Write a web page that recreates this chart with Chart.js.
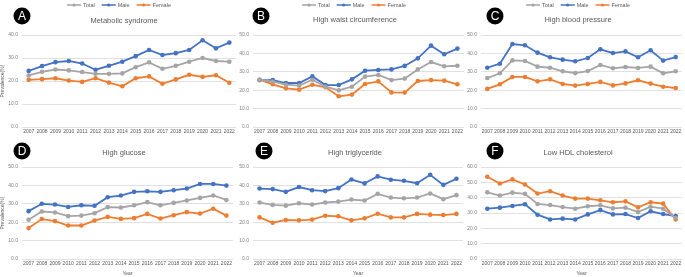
<!DOCTYPE html>
<html>
<head>
<meta charset="utf-8">
<script src="https://cdn.jsdelivr.net/npm/chart.js@4.4.1/dist/chart.umd.min.js"></script>
<style>
  html, body { margin: 0; padding: 0; background: #fff; }
  body { position: relative; width: 685px; height: 277px; overflow: hidden; }
  canvas { position: absolute; }
</style>
</head>
<body>
<canvas id="chartA" width="240" height="138" style="left:0px;top:0px"></canvas>
<canvas id="chartB" width="240" height="138" style="left:228px;top:0px"></canvas>
<canvas id="chartC" width="229" height="138" style="left:456px;top:0px"></canvas>
<canvas id="chartD" width="240" height="139" style="left:0px;top:138px"></canvas>
<canvas id="chartE" width="240" height="139" style="left:228px;top:138px"></canvas>
<canvas id="chartF" width="229" height="139" style="left:456px;top:138px"></canvas>
<script>
const years = ['2007','2008','2009','2010','2011','2012','2013','2014','2015','2016','2017','2018','2019','2020','2021','2022'];

// A - metabolic syndrome
const aTotal  = [22.4, 24.0, 25.0, 24.6, 23.9, 23.1, 23.1, 23.3, 26.0, 28.1, 25.3, 26.6, 28.4, 30.0, 28.7, 28.4];
const aMale   = [24.4, 26.5, 28.2, 28.7, 27.6, 24.9, 26.6, 28.4, 30.8, 33.5, 31.3, 32.1, 33.5, 37.7, 34.2, 36.7];
const aFemale = [20.5, 20.8, 21.2, 20.2, 19.6, 21.2, 19.3, 17.7, 21.2, 22.0, 18.8, 20.7, 22.7, 21.8, 22.5, 19.2];

// B - high waist circumference
const bTotal  = [25.7, 24.6, 23.0, 22.5, 25.7, 21.9, 19.9, 21.9, 27.4, 28.3, 25.5, 26.3, 31.3, 35.3, 33.0, 33.3];
const bMale   = [25.5, 25.5, 23.9, 23.9, 27.5, 22.8, 22.8, 25.9, 30.6, 31.0, 31.3, 33.2, 37.3, 44.2, 39.5, 42.6];
const bFemale = [25.7, 23.2, 21.0, 20.3, 23.0, 21.6, 16.7, 17.6, 23.4, 24.8, 18.8, 18.7, 25.0, 25.5, 25.2, 23.2];

// C - high blood pressure
const cTotal  = [26.6, 29.2, 36.2, 35.9, 32.8, 32.2, 30.3, 29.3, 30.4, 33.7, 31.9, 32.6, 32.1, 32.8, 29.2, 30.3];
const cMale   = [32.2, 34.4, 45.1, 44.4, 40.4, 37.9, 36.6, 35.7, 37.5, 42.2, 40.2, 41.1, 37.9, 41.7, 36.1, 38.0];
const cFemale = [20.7, 23.2, 27.2, 27.2, 24.8, 25.9, 23.4, 22.5, 23.4, 24.5, 22.6, 23.7, 25.4, 23.6, 21.9, 21.2];

// D - high glucose
const dTotal  = [21.3, 25.8, 25.3, 23.3, 23.6, 24.9, 28.2, 28.0, 29.2, 30.9, 29.2, 30.5, 31.8, 33.2, 34.5, 32.1];
const dMale   = [26.0, 30.0, 29.6, 28.3, 29.2, 28.9, 33.6, 34.5, 36.5, 36.8, 36.5, 37.4, 38.3, 40.8, 40.8, 39.9];
const dFemale = [16.8, 21.7, 20.6, 18.2, 18.2, 20.9, 22.9, 21.8, 22.2, 24.5, 22.0, 23.8, 25.5, 24.7, 27.3, 23.6];

// E - high triglyceride
const eTotal  = [30.7, 29.4, 29.0, 30.3, 29.6, 30.7, 31.2, 32.3, 31.8, 35.4, 33.4, 33.0, 33.4, 35.6, 32.5, 34.7];
const eMale   = [38.3, 38.0, 36.5, 39.1, 37.4, 36.9, 38.5, 43.2, 41.1, 44.9, 43.1, 42.5, 41.2, 45.8, 40.3, 43.6];
const eFemale = [22.6, 19.7, 21.2, 21.0, 21.4, 23.5, 23.2, 21.0, 22.1, 24.6, 22.6, 22.6, 24.5, 24.1, 23.9, 24.5];

// F - low HDL cholesterol
const fTotal  = [43.5, 41.4, 43.3, 42.5, 35.9, 35.2, 33.9, 32.8, 34.4, 35.0, 33.0, 33.5, 30.6, 34.1, 32.8, 26.7];
const fMale   = [32.8, 33.5, 34.6, 35.7, 28.9, 25.8, 26.3, 25.8, 29.1, 31.9, 29.1, 29.3, 26.7, 31.1, 29.3, 28.0];
const fFemale = [53.6, 49.2, 51.9, 48.6, 42.7, 44.2, 41.4, 39.4, 39.4, 38.3, 37.0, 37.6, 33.7, 37.0, 36.1, 25.8];

const FONT = "'Liberation Sans', Arial, sans-serif";
const GREY = '#a5a5a5', BLUE = '#4472c4', ORANGE = '#ed7d31';

// badge, title and legend drawn on top of each small chart
const panelDecor = {
    id: 'panelDecor',
    afterDraw(chart, args, o) {
        const { ctx } = chart;
        ctx.save();

        // letter badge
        ctx.beginPath();
        ctx.arc(o.badge[0], o.badge[1], 8.5, 0, Math.PI * 2);
        ctx.fillStyle = '#000';
        ctx.fill();
        ctx.fillStyle = '#fff';
        ctx.font = '12px ' + FONT;
        ctx.textAlign = 'center';
        ctx.textBaseline = 'middle';
        ctx.fillText(o.letter, o.badge[0], o.badge[1] + 0.5);

        // title
        ctx.fillStyle = '#595959';
        ctx.font = '7.5px ' + FONT;
        ctx.fillText(o.title, o.titlePos[0], o.titlePos[1]);

        // legend
        if (o.legendX) {
            ctx.font = '5.5px ' + FONT;
            const items = chart.data.datasets;
            const lineLen = 14, gap = 2, between = 7;
            let total = 0;
            items.forEach((d, i) => {
                total += lineLen + gap + ctx.measureText(d.label).width;
                if (i < items.length - 1) total += between;
            });
            let x = o.legendX - total / 2;
            const y = 5;
            ctx.textAlign = 'left';
            items.forEach(d => {
                ctx.strokeStyle = d.borderColor;
                ctx.lineWidth = 1.5;
                ctx.beginPath();
                ctx.moveTo(x, y);
                ctx.lineTo(x + lineLen, y);
                ctx.stroke();
                ctx.beginPath();
                ctx.arc(x + lineLen / 2, y, 1.6, 0, Math.PI * 2);
                ctx.fillStyle = d.borderColor;
                ctx.fill();
                x += lineLen + gap;
                ctx.fillStyle = '#595959';
                ctx.fillText(d.label, x, y);
                x += ctx.measureText(d.label).width + between;
            });
        }
        ctx.restore();
    }
};

function series(label, values, color) {
    return {
        label: label,
        data: values,
        borderColor: color,
        backgroundColor: color,
        borderWidth: 1.8,
        pointRadius: 2.3,
        pointBorderWidth: 0,
        tension: 0
    };
}

const panels = [
    { id: 'chartA', letter: 'A', title: 'Metabolic syndrome', yMax: 40, total: aTotal, male: aMale, female: aFemale,
      badge: [22, 16], titlePos: [124, 21], legendX: 119, top: 35, right: 4, yw: 22, xh: 11, yTitle: true, xTitle: false },
    { id: 'chartB', letter: 'B', title: 'High waist circumference', yMax: 50, total: bTotal, male: bMale, female: bFemale,
      badge: [33, 16], titlePos: [127, 20], legendX: 126, top: 35, right: 4, yw: 25, xh: 11, yTitle: false, xTitle: false },
    { id: 'chartC', letter: 'C', title: 'High blood pressure', yMax: 50, total: cTotal, male: cMale, female: cFemale,
      badge: [39, 16], titlePos: [122, 20], legendX: 122, top: 35, right: 3, yw: 25, xh: 11, yTitle: false, xTitle: false },
    { id: 'chartD', letter: 'D', title: 'High glucose', yMax: 50, total: dTotal, male: dMale, female: dFemale,
      badge: [22, 13], titlePos: [124, 15], legendX: 0, top: 29, right: 7, yw: 22, xh: 18, yTitle: true, xTitle: true },
    { id: 'chartE', letter: 'E', title: 'High triglyceride', yMax: 50, total: eTotal, male: eMale, female: eFemale,
      badge: [36, 13], titlePos: [127, 15], legendX: 0, top: 29, right: 5, yw: 25, xh: 18, yTitle: false, xTitle: true },
    { id: 'chartF', letter: 'F', title: 'Low HDL cholesterol', yMax: 60, total: fTotal, male: fMale, female: fFemale,
      badge: [39, 13], titlePos: [122, 15], legendX: 0, top: 29, right: 3, yw: 25, xh: 18, yTitle: false, xTitle: true }
];

panels.forEach(p => {
    new Chart(document.getElementById(p.id), {
        type: 'line',
        data: {
            labels: years,
            datasets: [
                series('Total', p.total, GREY),
                series('Male', p.male, BLUE),
                series('Female', p.female, ORANGE)
            ]
        },
        options: {
            responsive: false,
            animation: false,
            layout: { autoPadding: false, padding: { top: p.top, right: p.right, bottom: 0, left: 0 } },
            plugins: {
                legend: { display: false },
                tooltip: { enabled: false },
                title: { display: false },
                panelDecor: p
            },
            scales: {
                x: {
                    offset: true,
                    grid: { display: false, drawTicks: false },
                    border: { display: false },
                    ticks: { font: { family: FONT, size: 5 }, color: '#595959', padding: 2, maxRotation: 0, autoSkip: false },
                    title: { display: p.xTitle, text: 'Year', font: { family: FONT, size: 5 }, color: '#595959', padding: 0 },
                    afterFit: s => { s.height = p.xh; }
                },
                y: {
                    min: 0,
                    max: p.yMax,
                    ticks: { stepSize: 10, font: { family: FONT, size: 5 }, color: '#7f7f7f', padding: 4,
                             callback: v => v.toFixed(1) },
                    grid: { color: '#d9d9d9', lineWidth: 0.8, drawTicks: false },
                    border: { display: false },
                    title: { display: p.yTitle, text: 'Prevalence(%)', font: { family: FONT, size: 5 }, color: '#595959', padding: 0 },
                    afterFit: s => { s.width = p.yw; }
                }
            }
        },
        plugins: [panelDecor]
    });
});
</script>
</body>
</html>
